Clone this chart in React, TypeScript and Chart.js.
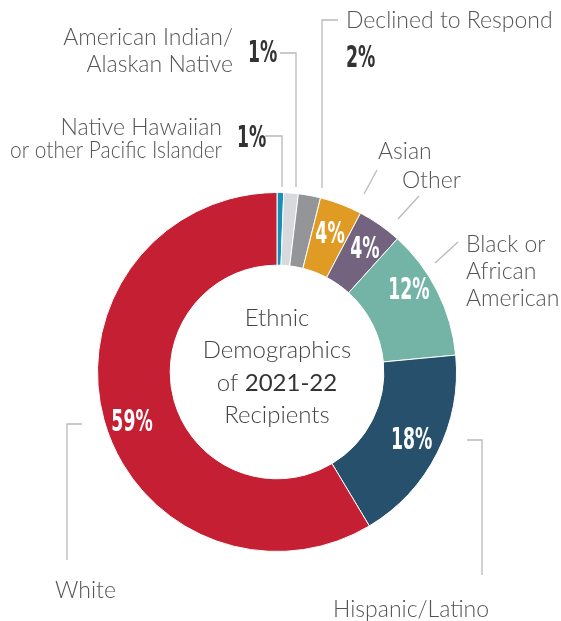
import { useEffect, useRef } from "react";
import { Chart, registerables } from "chart.js";

Chart.register(...registerables);

// ---- data ----
const categories = [
  "Native Hawaiian or other Pacific Islander",
  "American Indian/Alaskan Native",
  "Declined to Respond",
  "Asian",
  "Other",
  "Black or African American",
  "Hispanic/Latino",
  "White",
];
const shares = [0.6, 1.3, 2.0, 3.8, 4.0, 11.8, 17.9, 58.6];
const pctLabels = ["1%", "1%", "2%", "4%", "4%", "12%", "18%", "59%"];
const sliceColors = [
  "#1590B8",
  "#D8D9DC",
  "#939598",
  "#E09B25",
  "#74637F",
  "#74B4A6",
  "#26506B",
  "#C41F32",
];
const centerTitle = ["Ethnic", "Demographics", "of ", "2021-22", "Recipients"];

const LABEL_FONT = '"Lato", "DejaVu Sans", sans-serif';
const PCT_FONT = '"Liberation Sans Narrow", "DejaVu Sans Condensed", sans-serif';

function condensed(ctx: CanvasRenderingContext2D, text: string, x: number, y: number, size: number, color: string, align: CanvasTextAlign) {
  ctx.save();
  ctx.font = `bold ${size}px ${PCT_FONT}`;
  ctx.fillStyle = color;
  ctx.textAlign = align;
  ctx.textBaseline = "alphabetic";
  ctx.translate(x, y);
  ctx.scale(0.64, 1);
  ctx.fillText(text, 0, 0);
  ctx.restore();
}

const annotations = {
  id: "annotations",
  afterDatasetsDraw(chart: any) {
    const ctx: CanvasRenderingContext2D = chart.ctx;
    const meta = chart.getDatasetMeta(0);
    const arcs = meta.data;
    const cx = arcs[0].x;
    const cy = arcs[0].y;
    const P = (x: number, y: number) => [cx + (x - 277), cy + (y - 372)];

    // inner percentage labels (slices 3..7)
    const nudges: Record<number, [number, number]> = {
      3: [2, -6],
      4: [6, -8],
      5: [4, -20],
      6: [7, 1],
      7: [-7, 10],
    };
    Object.keys(nudges).forEach((k) => {
      const i = Number(k);
      const pos = arcs[i].tooltipPosition(false);
      const [dx, dy] = nudges[i];
      condensed(ctx, pctLabels[i], pos.x + dx, pos.y + dy + 11, 30, "#ffffff", "center");
    });

    // leader lines
    ctx.save();
    ctx.strokeStyle = "#b9b9b9";
    ctx.lineWidth = 1.3;
    const poly = (pts: number[][]) => {
      ctx.beginPath();
      pts.forEach((p, j) => {
        const [x, y] = P(p[0], p[1]);
        if (j === 0) ctx.moveTo(x, y);
        else ctx.lineTo(x, y);
      });
      ctx.stroke();
    };
    poly([[280, 53], [296, 53], [296, 187]]);
    poly([[265, 136], [282, 136], [282, 187]]);
    poly([[338, 20], [322, 20], [322, 188]]);
    poly([[377, 170], [364, 194]]);
    poly([[419, 196], [398, 219]]);
    poly([[458, 242], [435, 263]]);
    poly([[467, 440], [482, 440], [482, 575]]);
    poly([[82, 424], [67, 424], [67, 560]]);
    ctx.restore();

    // outer text labels
    const txt = (t: string, x: number, y: number, align: CanvasTextAlign, maxW?: number) => {
      const [px, py] = P(x, y);
      ctx.save();
      ctx.font = `300 23px ${LABEL_FONT}`;
      ctx.fillStyle = "#555555";
      ctx.textAlign = align;
      ctx.textBaseline = "alphabetic";
      if (maxW) ctx.fillText(t, px, py, maxW);
      else ctx.fillText(t, px, py);
      ctx.restore();
    };
    txt("American Indian/", 233, 45, "right");
    txt("Alaskan Native", 233, 72, "right");
    txt("Native Hawaiian", 222, 135, "right");
    txt("or other Pacific Islander", 222, 158, "right", 212);
    txt("Declined to Respond", 346, 28, "left");
    txt("Asian", 378, 159, "left");
    txt("Other", 402, 188, "left");
    txt("Black or", 466, 252, "left");
    txt("African", 466, 279, "left");
    txt("American", 466, 306, "left");
    txt("Hispanic/Latino", 333, 617, "left");
    txt("White", 55, 598, "left");

    const dark = (t: string, x: number, y: number) => {
      const [px, py] = P(x, y);
      condensed(ctx, t, px, py, 30, "#333333", "left");
    };
    dark(pctLabels[1], 248, 62);
    dark(pctLabels[0], 237, 147);
    dark(pctLabels[2], 346, 67);

    // center title
    ctx.save();
    ctx.fillStyle = "#444444";
    ctx.textBaseline = "alphabetic";
    ctx.textAlign = "center";
    ctx.font = `300 24px ${LABEL_FONT}`;
    ctx.fillText(centerTitle[0], cx, cy - 46);
    ctx.fillText(centerTitle[1], cx, cy - 14);
    ctx.fillText(centerTitle[4], cx, cy + 51);
    // mixed-weight line
    ctx.font = `300 24px ${LABEL_FONT}`;
    const w1 = ctx.measureText(centerTitle[2]).width;
    ctx.font = `400 24px ${LABEL_FONT}`;
    const w2 = ctx.measureText(centerTitle[3]).width;
    const startX = cx - (w1 + w2) / 2;
    ctx.textAlign = "left";
    ctx.font = `300 24px ${LABEL_FONT}`;
    ctx.fillText(centerTitle[2], startX, cy + 19);
    ctx.font = `400 24px ${LABEL_FONT}`;
    ctx.fillStyle = "#333333";
    ctx.fillText(centerTitle[3], startX + w1, cy + 19);
    ctx.restore();
  },
};

export default function App() {
  const ref = useRef<HTMLCanvasElement | null>(null);
  useEffect(() => {
    if (!ref.current) return;
    const chart = new Chart(ref.current, {
      type: "doughnut",
      data: {
        labels: categories,
        datasets: [
          {
            data: shares,
            backgroundColor: sliceColors,
            borderColor: "#ffffff",
            borderWidth: 1,
          },
        ],
      },
      options: {
        responsive: false,
        maintainAspectRatio: false,
        animation: false,
        cutout: "59.5%",
        rotation: 0,
        layout: { padding: { left: 97, right: 104, top: 192, bottom: 69 } },
        plugins: {
          legend: { display: false },
          tooltip: { enabled: false },
        },
      },
      plugins: [annotations],
    });
    return () => chart.destroy();
  }, []);
  return (
    <div style={{ position: "absolute", left: 0, top: 0, width: 561, height: 621, background: "#fff" }}>
      <canvas ref={ref} width={561} height={621} style={{ width: 561, height: 621, display: "block" }} />
    </div>
  );
}
